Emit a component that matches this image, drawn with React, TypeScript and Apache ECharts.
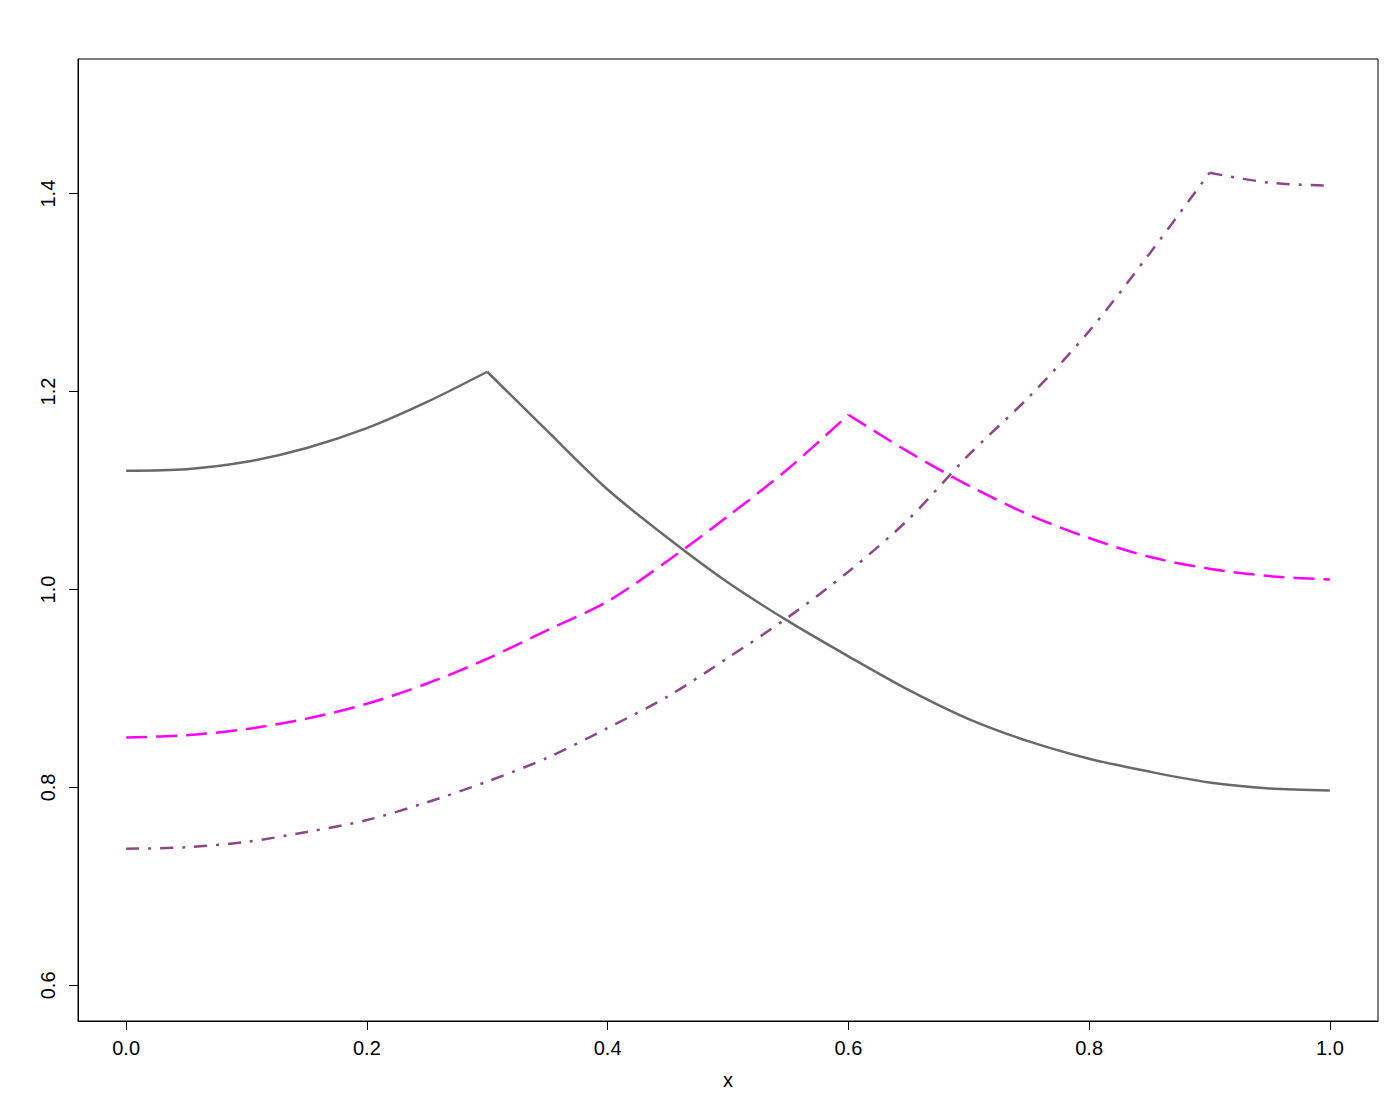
import React, { useEffect, useRef } from "react";
import * as echarts from "echarts";

const xValues = [0, 0.05, 0.1, 0.15, 0.2, 0.25, 0.3, 0.35, 0.4, 0.45, 0.5, 0.55, 0.6, 0.65, 0.7, 0.75, 0.8, 0.85, 0.9, 0.95, 1.0];

const solidGray = [1.12, 1.1215, 1.129, 1.143, 1.163, 1.1895, 1.22, 1.16, 1.101, 1.052, 1.007, 0.968, 0.9325, 0.8985, 0.869, 0.8465, 0.829, 0.816, 0.805, 0.799, 0.797];
const dashedMagenta = [0.8505, 0.8527, 0.859, 0.8695, 0.8845, 0.905, 0.93, 0.959, 0.988, 1.029, 1.074, 1.122, 1.1765, 1.139, 1.105, 1.0755, 1.052, 1.033, 1.021, 1.0135, 1.01];
const dotDashPurple = [0.738, 0.7395, 0.745, 0.755, 0.767, 0.785, 0.806, 0.83, 0.86, 0.892, 0.931, 0.972, 1.018, 1.071, 1.136, 1.1945, 1.261, 1.339, 1.421, 1.411, 1.408];

// x positions of the kinks (peaks) of each curve
const peakGray = 0.3;
const peakMagenta = 0.6;
const peakPurple = 0.9;

const xTicks = [0, 0.2, 0.4, 0.6, 0.8, 1.0];
const yTicks = [0.6, 0.8, 1.0, 1.2, 1.4];

const toPairs = (ys: number[]) => xValues.map((x, i) => [x, ys[i]]);
const leftOf = (ys: number[], p: number) => toPairs(ys).filter((d) => d[0] <= p + 1e-9);
const rightOf = (ys: number[], p: number) => toPairs(ys).filter((d) => d[0] >= p - 1e-9);

export default function App() {
  const ref = useRef<HTMLDivElement>(null);
  useEffect(() => {
    if (!ref.current) return;
    const chart = echarts.init(ref.current, null, { renderer: "svg" });
    const font = "'Liberation Sans', Arial, sans-serif";
    const mk = (data: number[][], color: string, type: any) => ({
      type: "line",
      data,
      showSymbol: false,
      smooth: 0.3,
      lineStyle: { color, width: 2.5, type },
    });
    chart.setOption({
      animation: false,
      backgroundColor: "#ffffff",
      grid: {
        left: 78,
        right: 22,
        top: 59,
        bottom: 79,
        show: true,
        borderColor: "#000000",
        borderWidth: 1,
        backgroundColor: "transparent",
      },
      xAxis: {
        type: "value",
        min: -0.04,
        max: 1.04,
        name: "x",
        nameLocation: "middle",
        nameGap: 49,
        nameTextStyle: { color: "#000", fontSize: 20, fontFamily: font },
        axisLine: { show: true, onZero: false, lineStyle: { color: "#000", width: 1 } },
        axisTick: {
          show: true,
          inside: false,
          length: 9,
          customValues: xTicks,
          lineStyle: { color: "#000", width: 1 },
        },
        axisLabel: {
          show: true,
          customValues: xTicks,
          formatter: (v: number) => v.toFixed(1),
          color: "#000",
          fontSize: 20,
          fontFamily: font,
          margin: 17,
        },
        splitLine: { show: false },
      },
      yAxis: {
        type: "value",
        min: 0.564,
        max: 1.536,
        axisLine: { show: true, onZero: false, lineStyle: { color: "#000", width: 1 } },
        axisTick: {
          show: true,
          inside: false,
          length: 9,
          customValues: yTicks,
          lineStyle: { color: "#000", width: 1 },
        },
        axisLabel: {
          show: true,
          customValues: yTicks,
          formatter: (v: number) => v.toFixed(1),
          color: "#000",
          fontSize: 20,
          fontFamily: font,
          rotate: 90,
          margin: 20,
        },
        splitLine: { show: false },
      },
      series: [
        mk(leftOf(solidGray, peakGray), "#696969", "solid"),
        mk(rightOf(solidGray, peakGray), "#696969", "solid"),
        mk(leftOf(dashedMagenta, peakMagenta), "#ff00ff", [21, 9]),
        mk(rightOf(dashedMagenta, peakMagenta), "#ff00ff", [21, 9]),
        mk(leftOf(dotDashPurple, peakPurple), "#8b4789", [13, 9, 3, 9]),
        mk(rightOf(dotDashPurple, peakPurple), "#8b4789", [13, 9, 3, 9]),
      ],
    });
    return () => chart.dispose();
  }, []);
  return (
    <div
      ref={ref}
      style={{ position: "absolute", left: 0, top: 0, width: 1400, height: 1100 }}
    />
  );
}
